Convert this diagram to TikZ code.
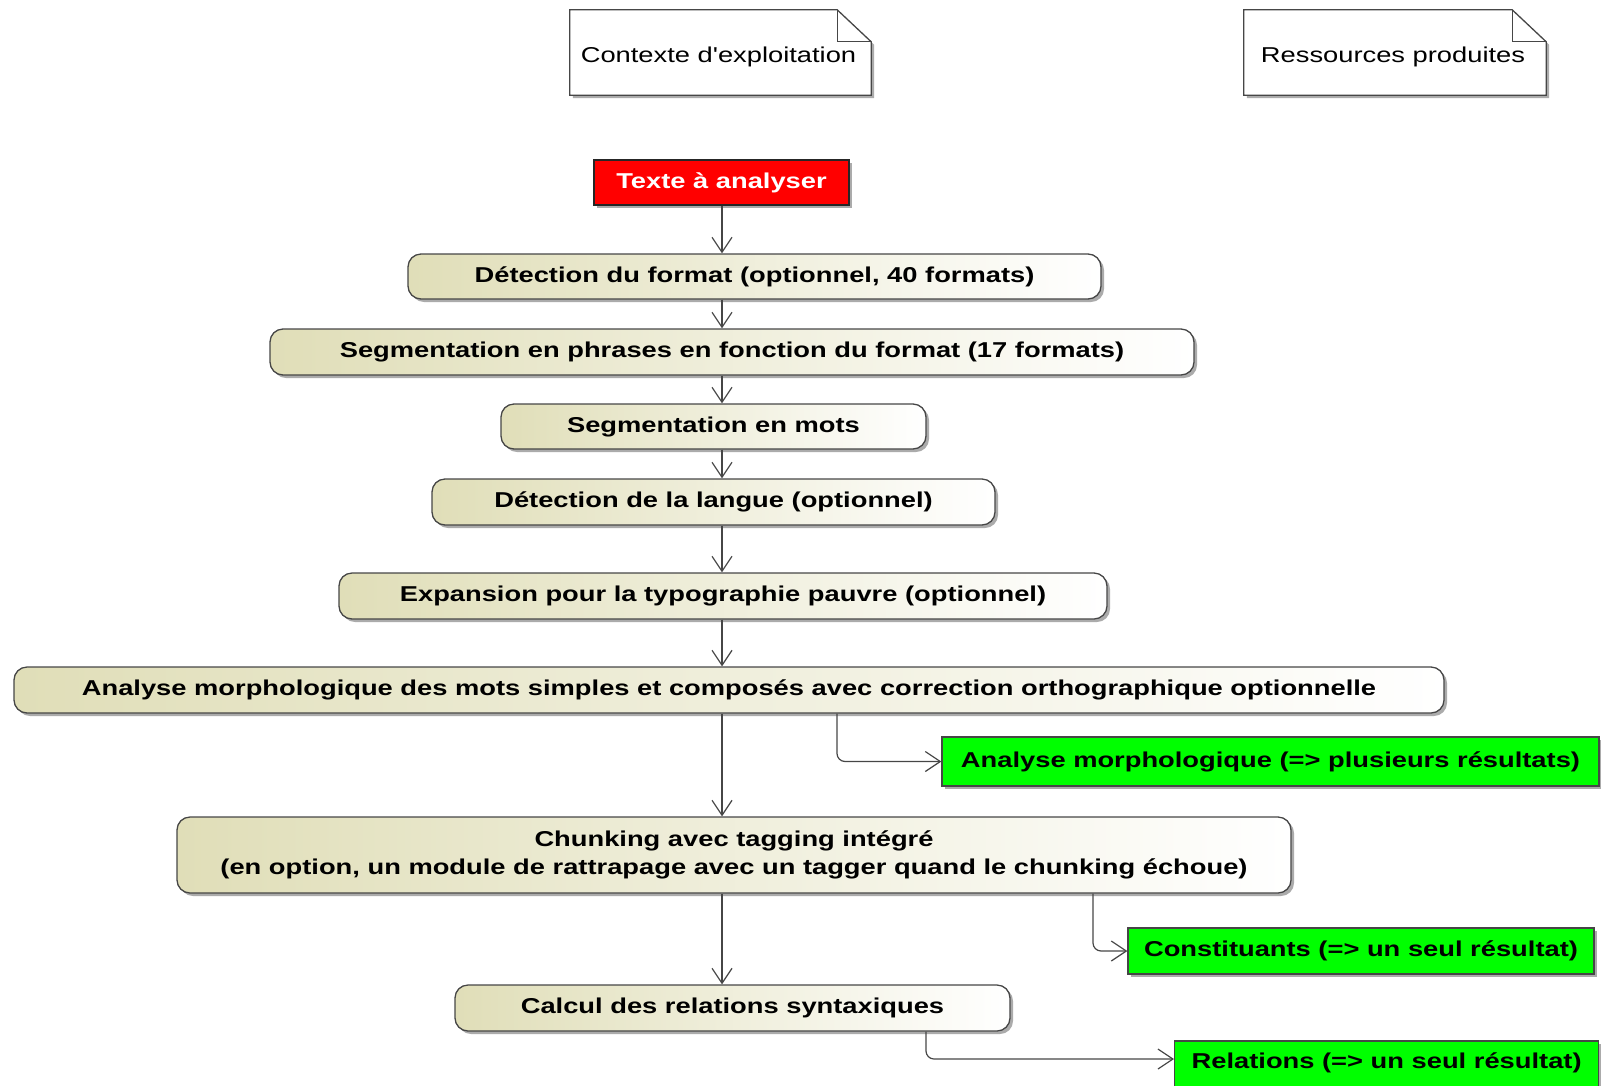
\documentclass[tikz,border=0pt]{standalone}
\usepackage{fontspec}
\setmainfont[FakeStretch=1.27,Ligatures=TeXOff]{Liberation Sans}
\usetikzlibrary{arrows.meta,shadows}
\definecolor{khaki}{RGB}{224,222,184}
\definecolor{edgec}{RGB}{70,70,70}
\definecolor{shd}{RGB}{150,150,150}
\definecolor{greenbox}{RGB}{0,255,0}
\definecolor{redbox}{RGB}{255,0,0}
\begin{document}
\begin{tikzpicture}[x=1pt,y=-1pt,
  sh/.style={drop shadow={shadow xshift=3pt,shadow yshift=-3pt,fill=shd,opacity=0.8}},
  txt/.style={font=\fontsize{21.5}{28.6}\selectfont\bfseries},
  act/.style={draw=edgec, line width=1.3pt, rounded corners=13pt, left color=khaki, right color=white, sh, txt, align=center, inner sep=0pt},
  resbox/.style={draw=edgec, line width=1.3pt, fill=greenbox, sh, txt, inner sep=0pt},
  startbox/.style={draw=black!85, line width=1.3pt, fill=redbox, sh, txt, text=white, inner sep=0pt},
  notetext/.style={font=\fontsize{21.5}{26}\selectfont, inner sep=0pt},
  notepath/.style={draw=edgec, line width=1.3pt, fill=white, sh},
  flow/.style={draw=edgec, line width=1.2pt, -{Straight Barb[length=15pt,width=20pt]}},
  branch/.style={flow, rounded corners=8pt}
]
\useasboundingbox (0,0) rectangle (1601,1085);

% notes
\node[notetext, minimum width=301pt, minimum height=85pt] (ctx) at (720.5,52.5) {};
\draw[notepath] (ctx.north west) -- ([xshift=-34pt]ctx.north east) -- ([yshift=-32pt]ctx.north east) -- (ctx.south east) -- (ctx.south west) -- cycle;
\draw[edgec, line width=1.3pt] ([xshift=-34pt]ctx.north east) |- ([yshift=-32pt]ctx.north east);
\node[notetext] (ctxt) at (718.5,57) {Contexte d'exploitation};

\node[notetext, minimum width=302pt, minimum height=85pt] (resn) at (1395,52.5) {};
\draw[notepath] (resn.north west) -- ([xshift=-34pt]resn.north east) -- ([yshift=-32pt]resn.north east) -- (resn.south east) -- (resn.south west) -- cycle;
\draw[edgec, line width=1.3pt] ([xshift=-34pt]resn.north east) |- ([yshift=-32pt]resn.north east);
\node[notetext] (rest) at (1393,57) {Ressources produites};

% start
\node[startbox, minimum width=255pt, minimum height=45pt] (texte) at (721.5,182.5) {Texte à analyser};

% activities
\node[act, minimum width=693pt, minimum height=45pt] (det1) at (754.5,276.5) {Détection du format (optionnel, 40 formats)};
\node[act, minimum width=924pt, minimum height=46pt] (seg1) at (732,352) {Segmentation en phrases en fonction du format (17 formats)};
\node[act, minimum width=425pt, minimum height=45pt] (seg2) at (713.5,426.5) {Segmentation en mots};
\node[act, minimum width=563pt, minimum height=46pt] (lang) at (713.5,502) {Détection de la langue (optionnel)};
\node[act, minimum width=768pt, minimum height=46pt] (expn) at (723,596) {Expansion pour la typographie pauvre (optionnel)};
\node[act, minimum width=1430pt, minimum height=46pt] (morph) at (729,690) {Analyse morphologique des mots simples et composés avec correction orthographique optionnelle};
\node[act, minimum width=1114pt, minimum height=76pt] (chunk) at (734,855) {Chunking avec tagging intégré\\(en option, un module de rattrapage avec un tagger quand le chunking échoue)};
\node[act, minimum width=555pt, minimum height=46pt] (calc) at (732.5,1008) {Calcul des relations syntaxiques};

% results
\node[resbox, minimum width=657pt, minimum height=49pt] (res1) at (1270.5,761.5) {Analyse morphologique (=> plusieurs résultats)};
\node[resbox, minimum width=466pt, minimum height=46pt] (res2) at (1361,951) {Constituants (=> un seul résultat)};
\node[resbox, anchor=base west, minimum width=424pt, text height=27pt, text depth=27pt] (res3) at (1174,1068) {Relations (=> un seul résultat)};

% coordinates for connector columns
\coordinate (mx) at (722,0);
\coordinate (b1) at (837,0);
\coordinate (b2) at (1093,0);
\coordinate (b3) at (926,0);

% main flow
\draw[flow] (texte.south -| mx) -- (det1.north -| mx);
\draw[flow] (det1.south -| mx) -- (seg1.north -| mx);
\draw[flow] (seg1.south -| mx) -- (seg2.north -| mx);
\draw[flow] (seg2.south -| mx) -- (lang.north -| mx);
\draw[flow] (lang.south -| mx) -- (expn.north -| mx);
\draw[flow] (expn.south -| mx) -- (morph.north -| mx);
\draw[flow] (morph.south -| mx) -- (chunk.north -| mx);
\draw[flow] (chunk.south -| mx) -- (calc.north -| mx);

% branches
\draw[branch] (morph.south -| b1) |- (res1.west);
\draw[branch] (chunk.south -| b2) |- (res2.west);
\draw[branch] (calc.south -| b3) |- ([yshift=9pt]res3.west);
\end{tikzpicture}
\end{document}
